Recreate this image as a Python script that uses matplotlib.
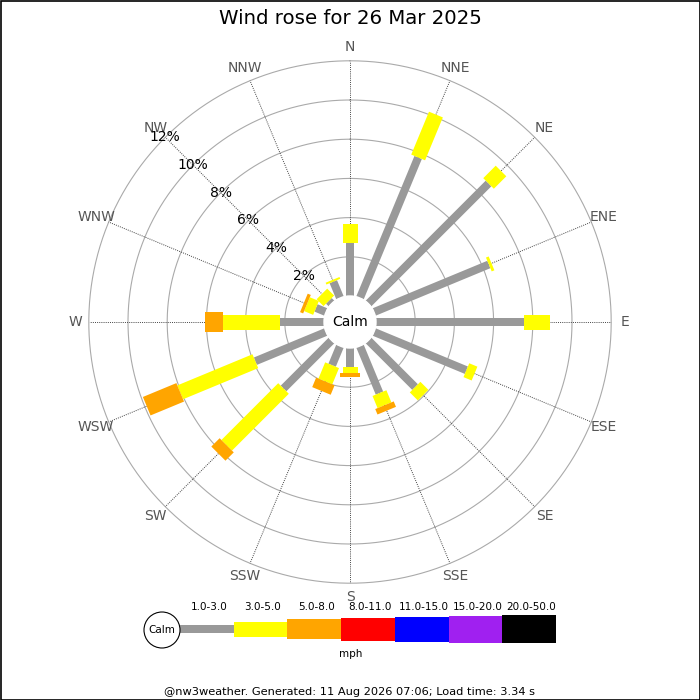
"""Wind rose for 26 Mar 2025, redrawn with matplotlib."""

import numpy as np
import matplotlib.pyplot as plt

directions = ['N', 'NNE', 'NE', 'ENE', 'E', 'ESE', 'SE', 'SSE',
              'S', 'SSW', 'SW', 'WSW', 'W', 'WNW', 'NW', 'NNW']
speed_bins = ['1.0-3.0', '3.0-5.0', '5.0-8.0', '8.0-11.0',
              '11.0-15.0', '15.0-20.0', '20.0-50.0']
bin_colors = ['#999999', '#ffff00', '#ffa500', '#ff0000',
              '#0000ff', '#a020f0', '#000000']

# percent of time per direction, per speed bin (mph)
pct_1_3 = [2.7, 7.76, 8.67, 6.34, 7.55, 5.1, 3.37, 2.6,
           0.97, 1.06, 3.47, 3.9, 2.24, 0.55, 0.2, 0.9]
pct_3_5 = [0.97, 2.37, 0.9, 0.15, 1.33, 0.45, 0.58, 0.67,
           0.32, 0.9, 4.1, 4.15, 2.9, 0.5, 0.5, 0.1]
pct_5_8 = [0, 0, 0, 0, 0, 0, 0, 0.3,
           0.17, 0.52, 0.6, 1.85, 0.93, 0.17, 0, 0]
pct_8_11 = [0] * 16
pct_11_15 = [0] * 16
pct_15_20 = [0] * 16
pct_20_50 = [0] * 16

ring_pcts = [2, 4, 6, 8, 10, 12]

S = 19.6          # pixels per percent
CALM_R = 26 / S   # calm circle radius in percent units
BAR_W = np.array([8, 15, 20, 23, 25, 27, 28]) / S


def main():
    fig = plt.figure(figsize=(7, 7), dpi=100)
    ax = fig.add_axes([0, 0, 1, 1])
    ax.set_xlim(-350 / S, 350 / S)
    ax.set_ylim(-378 / S, 322 / S)
    ax.axis('off')

    outer = CALM_R + ring_pcts[-1]
    t = np.linspace(0, 2 * np.pi, 400)
    for p in ring_pcts:
        r = CALM_R + p
        ax.plot(r * np.sin(t), r * np.cos(t), color='#aaaaaa', lw=0.8, zorder=1)

    angles = np.deg2rad(np.arange(16) * 22.5)
    for name, a in zip(directions, angles):
        ax.plot([0, outer * np.sin(a)], [0, outer * np.cos(a)],
                color='#444444', lw=0.7, ls=(0, (1, 1.2)), zorder=1)
        rl = outer + 0.7
        ax.text(rl * np.sin(a), rl * np.cos(a), name, color='#555555',
                fontsize=10, ha='center', va='center')

    # stacked radial bars
    series = [pct_1_3, pct_3_5, pct_5_8, pct_8_11, pct_11_15, pct_15_20, pct_20_50]
    for i, a in enumerate(angles):
        u = np.array([np.sin(a), np.cos(a)])
        pv = np.array([np.cos(a), -np.sin(a)])
        r0 = CALM_R
        for k, vals in enumerate(series):
            v = vals[i]
            if v <= 0:
                continue
            r1 = r0 + v
            hw = BAR_W[k] / 2
            pts = np.array([r0 * u + hw * pv, r1 * u + hw * pv,
                            r1 * u - hw * pv, r0 * u - hw * pv])
            ax.fill(pts[:, 0], pts[:, 1], color=bin_colors[k], lw=0, zorder=2 + k)
            r0 = r1

    calm = plt.Circle((0, 0), CALM_R, color='white', zorder=20)
    ax.add_patch(calm)
    ax.text(0, 0, 'Calm', fontsize=10, ha='center', va='center', zorder=21)

    a_lab = np.deg2rad(315)
    for p in ring_pcts:
        r = CALM_R + p
        ax.text(r * np.sin(a_lab), r * np.cos(a_lab), f'{p}%', fontsize=10,
                ha='center', va='center', zorder=22)

    # legend + titles in pixel coords
    lax = fig.add_axes([0, 0, 1, 1])
    lax.set_xlim(0, 700)
    lax.set_ylim(700, 0)
    lax.axis('off')
    lax.patch.set_alpha(0)

    seg_w = (556 - 180) / len(speed_bins)
    xs = 180 + seg_w * np.arange(len(speed_bins))
    hs = BAR_W * S
    lax.bar(xs, hs, width=seg_w, bottom=629 - hs / 2, align='edge',
            color=bin_colors, lw=0)
    for x, lab in zip(xs, speed_bins):
        lax.text(x + seg_w / 2 + 2, 607, lab, fontsize=7.5, ha='center', va='center')
    lax.add_patch(plt.Circle((162, 630), 18, facecolor='white',
                             edgecolor='black', lw=0.8, zorder=5))
    lax.text(162, 630, 'Calm', fontsize=7.5, ha='center', va='center', zorder=6)
    lax.text(351, 654, 'mph', fontsize=7.5, ha='center', va='center')

    lax.text(350, 18, 'Wind rose for 26 Mar 2025', fontsize=14.2,
             ha='center', va='center')
    lax.text(350, 692, '@nw3weather. Generated: 11 Aug 2026 07:06; Load time: 3.34 s',
             fontsize=8.2, ha='center', va='center')

    # thin black frame round the image
    fig.patches.append(plt.Rectangle((0.5 / 700, 0.5 / 700), 699 / 700, 699 / 700,
                                     transform=fig.transFigure, fill=False,
                                     edgecolor='black', lw=1.2))

    fig.savefig('out.png', dpi=100)


if __name__ == '__main__':
    main()
